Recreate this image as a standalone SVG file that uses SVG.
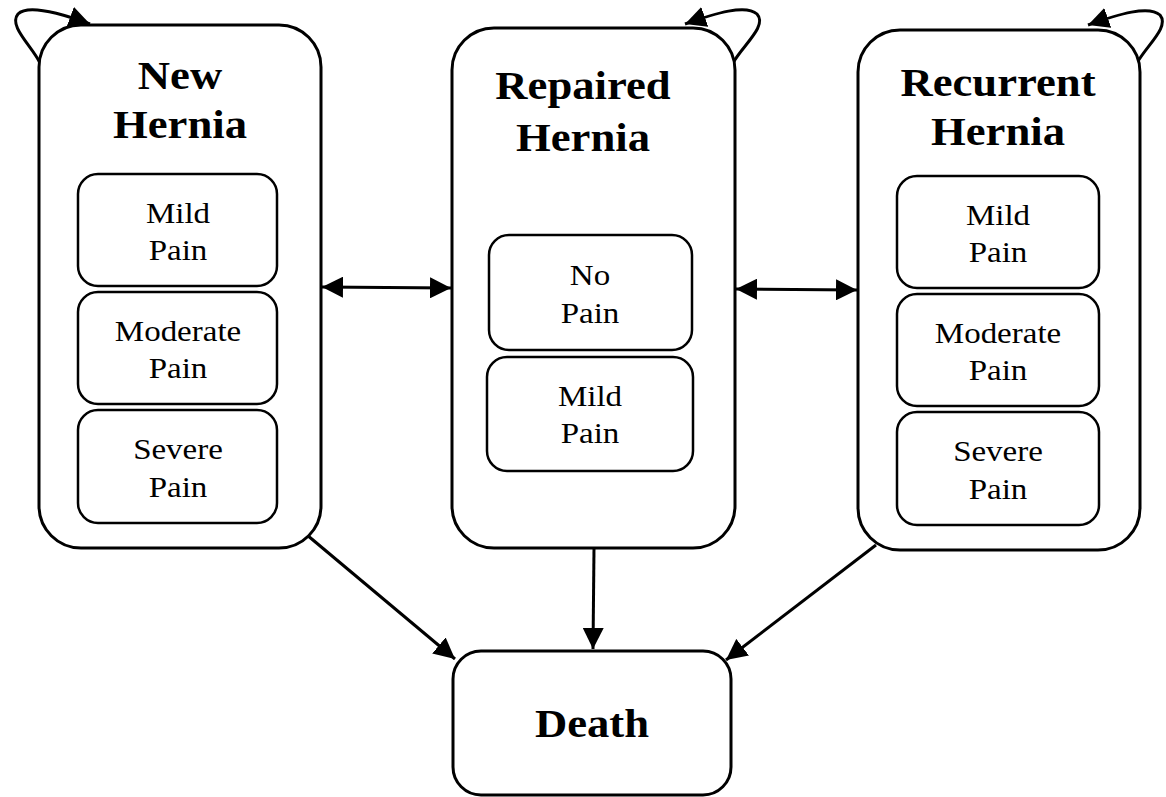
<svg xmlns="http://www.w3.org/2000/svg" width="1166" height="797" viewBox="0 0 1166 797">
<style>
.box{fill:#fff;stroke:#000;stroke-width:3}
.in{fill:#fff;stroke:#000;stroke-width:2.5}
.t{font-family:"Liberation Serif","Times New Roman",serif;font-weight:bold;font-size:41px;text-anchor:middle;fill:#000}
.s{font-family:"Liberation Serif","Times New Roman",serif;font-size:30px;text-anchor:middle;fill:#000}
.c{fill:none;stroke:#000;stroke-width:3}
</style>
<defs>
<marker id="a" viewBox="0 0 10 10" refX="10" refY="5" markerWidth="7" markerHeight="7" orient="auto-start-reverse">
<path d="M0,0 L10,5 L0,10 z" fill="#000"/>
</marker>
</defs>
<rect width="1166" height="797" fill="#fff"/>
<g id="connectors">
<path class="c" d="M40,63 C32,46 8,26 18,14 C28,4 60,13 90,24" marker-end="url(#a)"/>
<path class="c" d="M733,63 C742,46 768,26 757,14 C746,4 716,13 685,24" marker-end="url(#a)"/>
<path class="c" d="M1137,63 C1146,46 1170,27 1160,15 C1149,5 1119,14 1088,25" marker-end="url(#a)"/>
<line class="c" x1="322" y1="287" x2="451" y2="288" marker-start="url(#a)" marker-end="url(#a)"/>
<line class="c" x1="736" y1="289" x2="857" y2="290" marker-start="url(#a)" marker-end="url(#a)"/>
<line class="c" x1="307" y1="535" x2="455" y2="659" marker-end="url(#a)"/>
<line class="c" x1="594" y1="548" x2="593" y2="649" marker-end="url(#a)"/>
<line class="c" x1="876" y1="545" x2="726" y2="660" marker-end="url(#a)"/>
</g>
<g id="new-hernia">
<rect class="box" x="39" y="25" width="282" height="523" rx="42"/>
<text class="t" transform="translate(180 89) scale(1.09 1)">New</text>
<text class="t" transform="translate(180 138) scale(1.09 1)">Hernia</text>
<g id="new-mild"><rect class="in" x="78" y="174" width="199" height="112" rx="20"/>
<text class="s" transform="translate(178 223) scale(1.1 1)">Mild</text><text class="s" transform="translate(178 260) scale(1.1 1)">Pain</text></g>
<g id="new-moderate"><rect class="in" x="78" y="292" width="199" height="112" rx="20"/>
<text class="s" transform="translate(178 341) scale(1.1 1)">Moderate</text><text class="s" transform="translate(178 378) scale(1.1 1)">Pain</text></g>
<g id="new-severe"><rect class="in" x="78" y="410" width="199" height="113" rx="20"/>
<text class="s" transform="translate(178 459) scale(1.1 1)">Severe</text><text class="s" transform="translate(178 497) scale(1.1 1)">Pain</text></g>
</g>
<g id="repaired-hernia">
<rect class="box" x="452" y="28" width="283" height="520" rx="42"/>
<text class="t" transform="translate(583 99) scale(1.09 1)">Repaired</text>
<text class="t" transform="translate(583 151) scale(1.09 1)">Hernia</text>
<g id="rep-no"><rect class="in" x="489" y="235" width="203" height="115" rx="20"/>
<text class="s" transform="translate(590 285) scale(1.1 1)">No</text><text class="s" transform="translate(590 323) scale(1.1 1)">Pain</text></g>
<g id="rep-mild"><rect class="in" x="487" y="357" width="206" height="114" rx="20"/>
<text class="s" transform="translate(590 406) scale(1.1 1)">Mild</text><text class="s" transform="translate(590 443) scale(1.1 1)">Pain</text></g>
</g>
<g id="recurrent-hernia">
<rect class="box" x="858" y="30" width="282" height="520" rx="42"/>
<text class="t" transform="translate(998 96) scale(1.09 1)">Recurrent</text>
<text class="t" transform="translate(998 145) scale(1.09 1)">Hernia</text>
<g id="rec-mild"><rect class="in" x="897" y="176" width="202" height="112" rx="20"/>
<text class="s" transform="translate(998 225) scale(1.1 1)">Mild</text><text class="s" transform="translate(998 262) scale(1.1 1)">Pain</text></g>
<g id="rec-moderate"><rect class="in" x="897" y="294" width="202" height="112" rx="20"/>
<text class="s" transform="translate(998 343) scale(1.1 1)">Moderate</text><text class="s" transform="translate(998 380) scale(1.1 1)">Pain</text></g>
<g id="rec-severe"><rect class="in" x="897" y="412" width="202" height="113" rx="20"/>
<text class="s" transform="translate(998 461) scale(1.1 1)">Severe</text><text class="s" transform="translate(998 499) scale(1.1 1)">Pain</text></g>
</g>
<g id="death">
<rect class="box" x="453" y="651" width="278" height="144" rx="28"/>
<text class="t" transform="translate(592 737) scale(1.09 1)">Death</text>
</g>
</svg>
